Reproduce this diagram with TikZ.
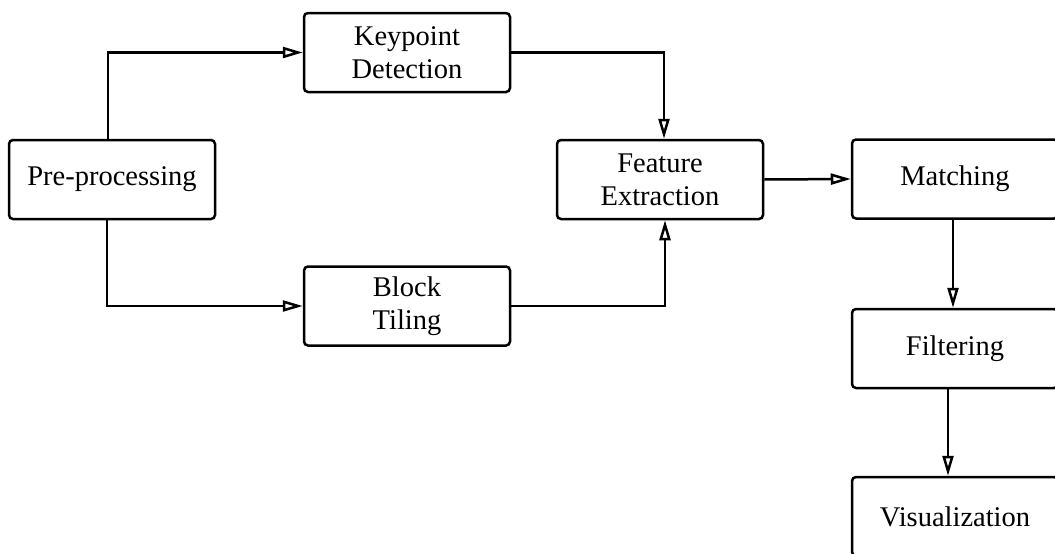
\documentclass[tikz,border=0pt]{standalone}
\usepackage{fontspec}
\setmainfont{Liberation Serif}
\usetikzlibrary{arrows.meta}
\begin{document}
\begin{tikzpicture}[x=1pt,y=-1pt,
  box/.style={draw, line width=2.5pt, rounded corners=4pt, minimum width=206pt, minimum height=79pt,
    align=center, inner sep=0pt, font=\fontsize{28.5}{33}\selectfont},
  conn/.style={line width=2.5pt, -{Triangle[open,length=20pt,width=11pt,line width=2.5pt]}}]
\useasboundingbox (0,0) rectangle (1055,554);
\clip (0,0) rectangle (1055,554);
\node[box] (pre) at (112,179.5) {Pre-processing};
\node[box] (kp) at (407,52.5) {Keypoint\\Detection};
\node[box] (bt) at (407,306) {Block\\Tiling};
\node[box] (fe) at (660,179.5) {Feature\\Extraction};
\node[box] (ma) at (955,179) {Matching};
\node[box] (fi) at (955,348.5) {Filtering};
\node[box] (vi) at (955,516.5) {Visualization};
\draw[conn] ([xshift=-4pt]pre.north) |- (kp.west);
\draw[conn] ([xshift=-5pt]pre.south) |- (bt.west);
\draw[conn] (kp.east) -| ([xshift=4pt]fe.north);
\draw[conn] (bt.east) -| ([xshift=5pt]fe.south);
\draw[conn] (fe.east) -- (ma.west);
\draw[conn] ([xshift=-2pt]ma.south) -- ([xshift=-2pt]fi.north);
\draw[conn] ([xshift=-7pt]fi.south) -- ([xshift=-7pt]vi.north);
\end{tikzpicture}
\end{document}
